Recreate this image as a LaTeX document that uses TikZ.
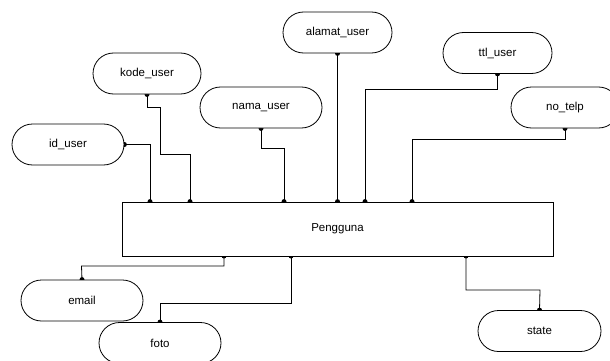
\documentclass[tikz,border=0pt]{standalone}
\usepackage{fontspec}
\setmainfont{Liberation Sans}
\usetikzlibrary{backgrounds}
\begin{document}
\begin{tikzpicture}[x=1pt,y=-1pt,
  attr/.style={draw, line width=0.8pt, fill=white, rounded corners=20.5pt, minimum height=41pt, inner sep=0pt, font=\fontsize{11.5}{13}\selectfont},
  ent/.style={draw, line width=0.8pt, fill=white, minimum width=431pt, minimum height=54pt, inner sep=0pt, font=\fontsize{11.5}{13}\selectfont},
  conn/.style={line width=0.8pt}]
\useasboundingbox (0,0) rectangle (610,361);
\clip (0,0) rectangle (610,361);
\node[ent] (e) at (337.5,229) {Pengguna};
\node[attr, minimum width=112pt] (id) at (68,144.5) {id\_user};
\node[attr, minimum width=108pt] (kode) at (147,73.5) {kode\_user};
\node[attr, minimum width=122pt] (nama) at (261,107.5) {nama\_user};
\node[attr, minimum width=109pt] (alamat) at (337.5,32.5) {alamat\_user};
\node[attr, minimum width=109pt] (ttl) at (497.5,53) {ttl\_user};
\node[attr, minimum width=108pt] (telp) at (565,107.5) {no\_telp};
\node[attr, minimum width=122pt] (email) at (82,300.5) {email};
\node[attr, minimum width=122pt] (foto) at (160,343) {foto};
\node[attr, minimum width=123pt] (state) at (539.5,331) {state};
\coordinate (c1) at (150,144.5);
\coordinate (k1) at (160,107);
\coordinate (c2) at (190,154);
\coordinate (c3) at (284,148);
\coordinate (c5) at (365,89);
\coordinate (c6) at (412,139);
\coordinate (c7) at (81.5,266);
\coordinate (c8) at (160,303);
\coordinate (c9) at (540,290);
\coordinate (b7) at (224,256);
\coordinate (b8) at (291,256);
\coordinate (b9) at (466,256);
\begin{pgfonlayer}{background}
\draw[conn] (id.east) -- (c1) -- (c1 |- e.north);
\fill (id.east) circle (2.5pt) (c1 |- e.north) circle (2.5pt);
\draw[conn] (kode.south) |- (k1) |- (c2) -- (c2 |- e.north);
\fill (kode.south) circle (2.5pt) (c2 |- e.north) circle (2.5pt);
\draw[conn] (nama.south) |- (c3) -- (c3 |- e.north);
\fill (nama.south) circle (2.5pt) (c3 |- e.north) circle (2.5pt);
\draw[conn] (alamat.south) -- (alamat.south |- e.north);
\fill (alamat.south) circle (2.5pt) (alamat.south |- e.north) circle (2.5pt);
\draw[conn] (ttl.south) |- (c5) -- (c5 |- e.north);
\fill (ttl.south) circle (2.5pt) (c5 |- e.north) circle (2.5pt);
\draw[conn] (telp.south) |- (c6) -- (c6 |- e.north);
\fill (telp.south) circle (2.5pt) (c6 |- e.north) circle (2.5pt);
\draw[conn] (b7) |- (c7) -- (email.north);
\fill (b7) circle (2.5pt) (email.north) circle (2.5pt);
\draw[conn] (b8) |- (c8) -- (foto.north);
\fill (b8) circle (2.5pt) (foto.north) circle (2.5pt);
\draw[conn] (b9) |- (c9) -- (state.north);
\fill (b9) circle (2.5pt) (state.north) circle (2.5pt);
\end{pgfonlayer}
\end{tikzpicture}
\end{document}
